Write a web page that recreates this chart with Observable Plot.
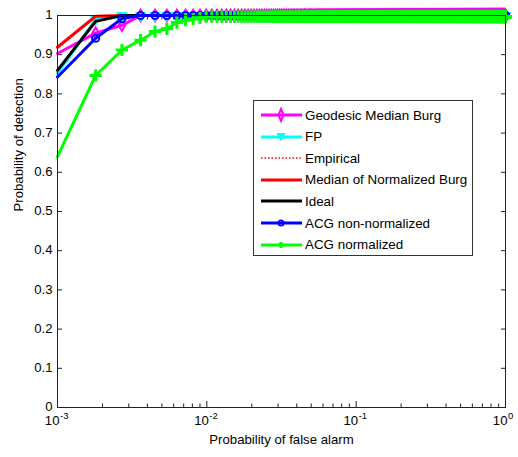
<!DOCTYPE html>
<html>
<head>
<meta charset="utf-8">
<script src="https://cdn.jsdelivr.net/npm/d3@7"></script>
<script src="https://cdn.jsdelivr.net/npm/@observablehq/plot@0.6"></script>
<style>
  html, body { margin: 0; padding: 0; background: #fff; }
  #wrap { position: relative; width: 518px; height: 457px; font-family: "Liberation Sans", Arial, sans-serif; }
  #legend { position: absolute; left: 253px; top: 100px; width: 220px; height: 156px; border: 1px solid #333; background: #fff; box-sizing: border-box; }
  .row { position: absolute; left: 0; height: 20px; display: flex; align-items: center; font-size: 13.4px; color: #000; white-space: nowrap; }
  .row svg { margin-left: 6px; margin-right: 2px; }
</style>
</head>
<body>
<div id="wrap"><div id="chart"></div><div id="legend"></div></div>
<script>
// Probability of false alarm grid (first point = left edge of axis)
const pfa = [0.001, ...d3.range(2, 1112).map(k => +(0.0009 * k).toFixed(4))];

// Leading values; all later points sit at the plateau value
const geodesicLead = [0.903, 0.955, 0.975];
const fpLead = [0.852, 0.99];
const empiricalLead = [0.919, 0.998];
const medianBurgLead = [0.919, 0.998];
const idealLead = [0.86, 0.985];
const acgNonNormLead = [0.843, 0.942, 0.992];
const acgNormLead = [0.64, 0.847, 0.912, 0.937, 0.959, 0.966, 0.982, 0.988, 0.991, 0.994, 0.997];

const plateau = { geodesic: 1, fp: 1, empirical: 1, medianBurg: 1, ideal: 1, acgNonNorm: 1, acgNorm: 0.997 };

const seriesNames = ["Geodesic Median Burg", "FP", "Empirical", "Median of Normalized Burg", "Ideal", "ACG non-normalized", "ACG normalized"];
const seriesColors = ["#ff00ff", "#00ffff", "#ff0000", "#ff0000", "#000000", "#0000ff", "#00ff00"];

const yTicks = [0, 0.1, 0.2, 0.3, 0.4, 0.5, 0.6, 0.7, 0.8, 0.9, 1];
const xMajor = [0.001, 0.01, 0.1, 1];
const xMinor = [0.002,0.003,0.004,0.005,0.006,0.007,0.008,0.009,
                0.02,0.03,0.04,0.05,0.06,0.07,0.08,0.09,
                0.2,0.3,0.4,0.5,0.6,0.7,0.8,0.9];

function build(lead, tail) {
  return pfa.map((x, i) => ({ x, y: i < lead.length ? lead[i] : tail }));
}
const geodesic = build(geodesicLead, plateau.geodesic);
const fp = build(fpLead, plateau.fp);
const empirical = build(empiricalLead, plateau.empirical);
const medianBurg = build(medianBurgLead, plateau.medianBurg);
const ideal = build(idealLead, plateau.ideal);
const acgNonNorm = build(acgNonNormLead, plateau.acgNonNorm);
const acgNorm = build(acgNormLead, plateau.acgNorm);
const mk = arr => arr.slice(1); // markers only at sampled points inside the axes

const font = "Liberation Sans, Arial, sans-serif";
const fmtY = d => d === 0 ? "0" : d === 1 ? "1" : d.toFixed(1);
const fs = 13.2;

const chart = Plot.plot({
  width: 518, height: 457,
  marginLeft: 57, marginRight: 13, marginTop: 15, marginBottom: 50,
  style: { fontFamily: font, background: "#fff" },
  x: { type: "log", domain: [0.001, 1], axis: null },
  y: { domain: [0, 1], axis: null },
  marks: [
    // ticks (inward)
    Plot.axisY(yTicks, { anchor: "left", tickSize: -5, fill: "none", label: null, stroke: "#222" }),
    Plot.axisY(yTicks, { anchor: "right", tickSize: -5, fill: "none", label: null, stroke: "#222" }),
    Plot.axisX(xMajor, { anchor: "bottom", tickSize: -6, fill: "none", label: null, stroke: "#222" }),
    Plot.axisX(xMinor, { anchor: "bottom", tickSize: -3.5, fill: "none", label: null, stroke: "#222" }),
    Plot.axisX(xMajor, { anchor: "top", tickSize: -6, fill: "none", label: null, stroke: "#222" }),
    Plot.axisX(xMinor, { anchor: "top", tickSize: -3.5, fill: "none", label: null, stroke: "#222" }),
    // tick labels
    Plot.text(yTicks, { y: d => d, frameAnchor: "left", text: fmtY, textAnchor: "end", dx: -5, dy: -0.5, fontSize: fs, fill: "#000" }),
    Plot.text(xMajor, { x: d => d, frameAnchor: "bottom", text: () => "10", textAnchor: "end", dx: 2, dy: 17.5, fontSize: fs, fill: "#000" }),
    Plot.text(xMajor, { x: d => d, frameAnchor: "bottom", text: d => String(Math.round(Math.log10(d))), textAnchor: "start", dx: 2.5, dy: 11.5, fontSize: 9.5, fill: "#000" }),
    // axis titles
    Plot.text(["Probability of false alarm"], { frameAnchor: "bottom", text: d => d, dy: 36.5, fontSize: fs, fill: "#000" }),
    Plot.text(["Probability of detection"], { frameAnchor: "left", text: d => d, rotate: -90, dx: -39, fontSize: fs, fill: "#000" }),
    // data: Geodesic Median Burg
    Plot.line(geodesic, { x: "x", y: "y", stroke: seriesColors[0], strokeWidth: 3 }),
    Plot.dot(mk(geodesic), { x: "x", y: "y", symbol: "diamond", r: 3.5, stroke: seriesColors[0], strokeWidth: 2, fill: "none" }),
    // FP
    Plot.line(fp, { x: "x", y: "y", stroke: seriesColors[1], strokeWidth: 3 }),
    Plot.dot(mk(fp), { x: "x", y: "y", symbol: "triangle", rotate: 180, r: 3.8, fill: seriesColors[1], stroke: seriesColors[1], strokeWidth: 1 }),
    // Empirical (dotted)
    Plot.line(empirical, { x: "x", y: "y", stroke: seriesColors[2], strokeWidth: 1.2, strokeDasharray: "1.5,2" }),
    // Median of Normalized Burg
    Plot.line(medianBurg, { x: "x", y: "y", stroke: seriesColors[3], strokeWidth: 3 }),
    // Ideal
    Plot.line(ideal, { x: "x", y: "y", stroke: seriesColors[4], strokeWidth: 3 }),
    // ACG non-normalized
    Plot.line(acgNonNorm, { x: "x", y: "y", stroke: seriesColors[5], strokeWidth: 3 }),
    Plot.dot(mk(acgNonNorm), { x: "x", y: "y", symbol: "circle", r: 3.6, stroke: seriesColors[5], strokeWidth: 2, fill: "none" }),
    // ACG normalized
    Plot.line(acgNorm, { x: "x", y: "y", stroke: seriesColors[6], strokeWidth: 3 }),
    Plot.dot(mk(acgNorm), { x: "x", y: "y", symbol: "plus", r: 4, stroke: seriesColors[6], strokeWidth: 3 }),
    Plot.frame({ stroke: "#222", strokeWidth: 1 })
  ]
});
document.getElementById("chart").appendChild(chart);

// Legend
const legend = document.getElementById("legend");
const rowTops = [4, 25.6, 47.2, 68.8, 90.4, 112, 133.6];
const markerSvg = [
  `<path d="M21,3 L23.5,9 L21,15 L18.5,9 Z" fill="none" stroke="#ff00ff" stroke-width="2"/>`,
  `<path d="M17,5.5 L25,5.5 L21,12.5 Z" fill="#00ffff" stroke="#00ffff"/>`,
  ``, ``, ``,
  `<circle cx="21" cy="9" r="2.6" fill="none" stroke="#0000ff" stroke-width="1.8"/>`,
  `<path d="M21,6 V12 M18,9 H24" stroke="#00ff00" stroke-width="3"/>`
];
seriesNames.forEach((name, i) => {
  const row = document.createElement("div");
  row.className = "row";
  row.style.top = rowTops[i] + "px";
  const dash = i === 2 ? `stroke-dasharray="1.5,2" stroke-width="1.5"` : `stroke-width="3"`;
  row.innerHTML = `<svg width="43" height="18"><line x1="1" x2="42" y1="9" y2="9" stroke="${seriesColors[i]}" ${dash}/>${markerSvg[i]}</svg><span>${name}</span>`;
  legend.appendChild(row);
});
</script>
</body>
</html>
